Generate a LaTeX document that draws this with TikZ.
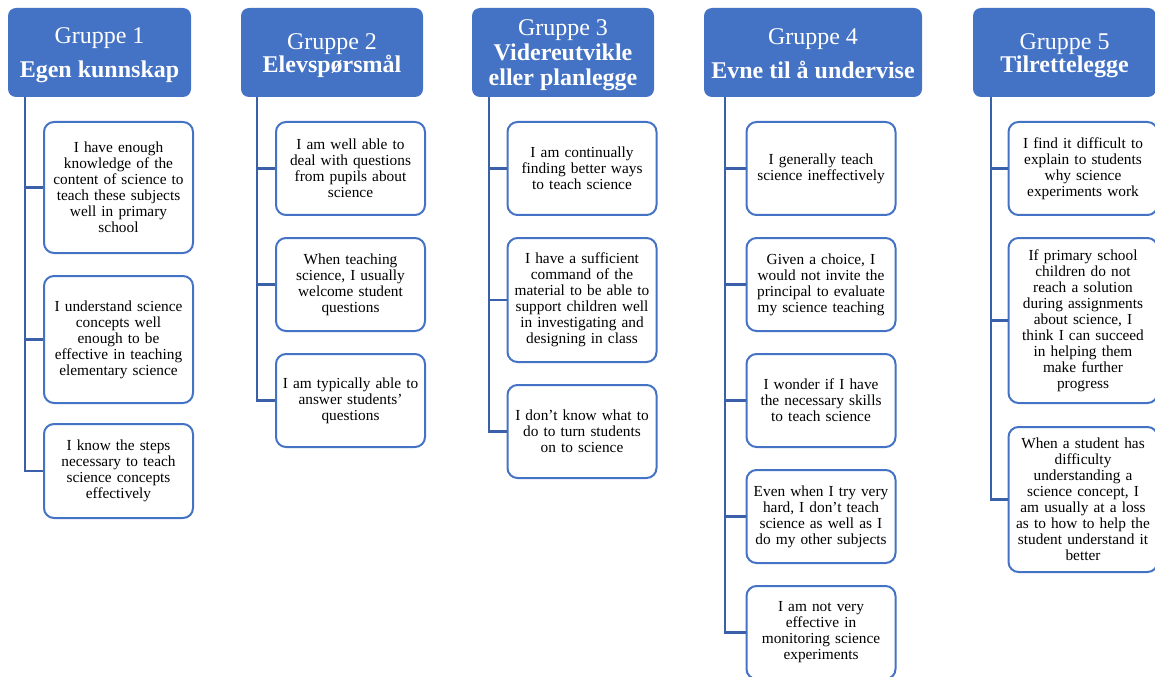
\documentclass[tikz,border=0pt]{standalone}
\usepackage{fontspec}
\setmainfont{Liberation Serif}
\definecolor{hdrblue}{HTML}{4472C4}
\definecolor{linblue}{HTML}{3A60AA}
\newcommand{\toprl}{\rule{0pt}{16.7pt}}
\newcommand{\botrl}{\rule[-3.9pt]{0pt}{3.9pt}}
\begin{document}
\begin{tikzpicture}[x=0.75pt,y=-0.75pt,
  hdr/.style={fill=hdrblue, rounded corners=6pt, text=white, align=center, inner sep=0pt,
    minimum height=66.75pt, font=\fontsize{18}{18.75}\selectfont},
  hw/.style={minimum width=#1*0.75pt},
  item/.style={draw=hdrblue, line width=1.5pt, fill=white, rounded corners=7.5pt, align=center,
    text width=109.5pt, inner sep=0pt, minimum width=111.75pt, font=\fontsize{11.5}{12}\selectfont},
  ih/.style={minimum height=#1*0.75pt},
  conn/.style={draw=linblue, line width=2pt}]
\useasboundingbox (0,0) rectangle (1155,677);
\clip (0,0) rectangle (1155,677);

% headers
\node[hdr, hw=183] (h1) at (99.5,52.5) {\toprl Gruppe 1\\[6.75pt]\textbf{Egen kunnskap}\botrl};
\node[hdr, hw=182] (h2) at (332,52.5) {\toprl Gruppe 2\\[-1.5pt]\textbf{Elevspørsmål}\botrl};
\node[hdr, hw=182] (h3) at (563,52.5) {\toprl Gruppe 3\\\textbf{Videreutvikle}\\\textbf{eller planlegge}\botrl};
\node[hdr, hw=218] (h4) at (813,52.5) {\toprl Gruppe 4\\[6.75pt]\textbf{Evne til å undervise}\botrl};
\node[hdr, hw=183] (h5) at (1064.5,52.5) {\toprl Gruppe 5\\[-1.5pt]\textbf{Tilrettelegge}\botrl};

% trunk coordinates
\coordinate (c1) at (25,97);
\coordinate (c2) at (257,97);
\coordinate (c3) at (489,97);
\coordinate (c4) at (725,97);
\coordinate (c5) at (991,97);

% group 1
\node[item, ih=131] (b11) at (118.5,187.5) {I have enough\\knowledge of the\\content of science to\\teach these subjects\\well in primary\\school};
\node[item, ih=127] (b12) at (118.5,339.5) {I understand science\\concepts well\\enough to be\\effective in teaching\\elementary science};
\node[item, ih=94] (b13) at (118.5,471) {I know the steps\\necessary to teach\\science concepts\\effectively};

% group 2
\node[item, ih=93] (b21) at (350.5,168.5) {I am well able to\\deal with questions\\from pupils about\\science};
\node[item, ih=93] (b22) at (350.5,284.5) {When teaching\\science, I usually\\welcome student\\questions};
\node[item, ih=93] (b23) at (350.5,400.5) {I am typically able to\\answer students’\\questions};

% group 3
\node[item, ih=93] (b31) at (582,168.5) {I am continually\\finding better ways\\to teach science};
\node[item, ih=124] (b32) at (582,300) {I have a sufficient\\command of the\\material to be able to\\support children well\\in investigating and\\designing in class};
\node[item, ih=93] (b33) at (582,431.5) {I don’t know what to\\do to turn students\\on to science};

% group 4
\node[item, ih=93] (b41) at (821,168.5) {I generally teach\\science ineffectively};
\node[item, ih=93] (b42) at (821,284.5) {Given a choice, I\\would not invite the\\principal to evaluate\\my science teaching};
\node[item, ih=93] (b43) at (821,400.5) {I wonder if I have\\the necessary skills\\to teach science};
\node[item, ih=93] (b44) at (821,516.5) {Even when I try very\\hard, I don’t teach\\science as well as I\\do my other subjects};
\node[item, ih=93] (b45) at (821,632.5) {I am not very\\effective in\\monitoring science\\experiments};

% group 5
\node[item, ih=93] (b51) at (1083,168.5) {I find it difficult to\\explain to students\\why science\\experiments work};
\node[item, ih=165] (b52) at (1083,320.5) {If primary school\\children do not\\reach a solution\\during assignments\\about science, I\\think I can succeed\\in helping them\\make further\\progress};
\node[item, ih=145] (b53) at (1083,499.5) {When a student has\\difficulty\\understanding a\\science concept, I\\am usually at a loss\\as to how to help the\\student understand it\\better};

% connectors
\draw[conn] (c1) |- (b13.west);
\draw[conn] (c1 |- b11.west) -- (b11.west);
\draw[conn] (c1 |- b12.west) -- (b12.west);

\draw[conn] (c2) |- (b23.west);
\draw[conn] (c2 |- b21.west) -- (b21.west);
\draw[conn] (c2 |- b22.west) -- (b22.west);

\draw[conn] (c3) |- (b33.west);
\draw[conn] (c3 |- b31.west) -- (b31.west);
\draw[conn] (c3 |- b32.west) -- (b32.west);

\draw[conn] (c4) |- (b45.west);
\draw[conn] (c4 |- b41.west) -- (b41.west);
\draw[conn] (c4 |- b42.west) -- (b42.west);
\draw[conn] (c4 |- b43.west) -- (b43.west);
\draw[conn] (c4 |- b44.west) -- (b44.west);

\draw[conn] (c5) |- (b53.west);
\draw[conn] (c5 |- b51.west) -- (b51.west);
\draw[conn] (c5 |- b52.west) -- (b52.west);
\end{tikzpicture}
\end{document}
